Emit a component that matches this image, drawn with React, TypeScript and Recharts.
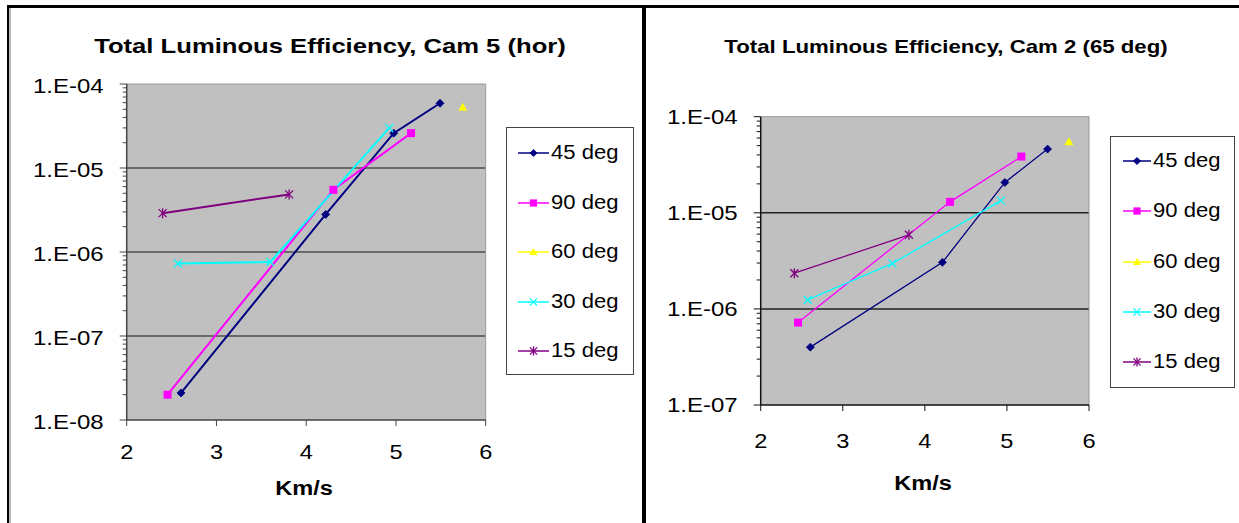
import React from 'react';
import { LineChart, Line, XAxis, YAxis, CartesianGrid, ReferenceLine } from 'recharts';

// ---------- data ----------
const SERIES_NAMES = ['45 deg', '90 deg', '60 deg', '30 deg', '15 deg'];
const SERIES_COLORS = ['#000080', '#FF00FF', '#FFFF00', '#00FFFF', '#800080'];
const SERIES_MARKERS = ['diamond', 'square', 'triangle', 'x', 'star'];

// Cam 5 (hor): velocity (km/s) and luminous efficiency
const CAM5_45_V = [2.605, 4.217, 4.975, 5.491];
const CAM5_45_E = [2.1e-8, 2.8e-6, 2.6e-5, 5.9e-5];
const CAM5_90_V = [2.455, 4.303, 5.168];
const CAM5_90_E = [2.0e-8, 5.5e-6, 2.6e-5];
const CAM5_60_V = [5.745];
const CAM5_60_E = [5.3e-5];
const CAM5_30_V = [2.57, 3.6, 4.925];
const CAM5_30_E = [7.3e-7, 7.6e-7, 3.0e-5];
const CAM5_15_V = [2.4, 3.81];
const CAM5_15_E = [2.9e-6, 4.85e-6];

// Cam 2 (65 deg)
const CAM2_45_V = [2.605, 4.214, 4.975, 5.495];
const CAM2_45_E = [4.0e-7, 3.05e-6, 2.07e-5, 4.6e-5];
const CAM2_90_V = [2.455, 4.307, 5.176];
const CAM2_90_E = [7.2e-7, 1.3e-5, 3.85e-5];
const CAM2_60_V = [5.755];
const CAM2_60_E = [5.5e-5];
const CAM2_30_V = [2.572, 3.605, 4.926];
const CAM2_30_E = [1.24e-6, 2.97e-6, 1.34e-5];
const CAM2_15_V = [2.41, 3.806];
const CAM2_15_E = [2.35e-6, 5.9e-6];

const X_TICKS = [2, 3, 4, 5, 6];
const X_TICK_LABELS = ['2', '3', '4', '5', '6'];
const CAM5_Y_MAJOR = [1e-8, 1e-7, 1e-6, 1e-5, 1e-4];
const CAM5_Y_LABELS = ['1.E-08', '1.E-07', '1.E-06', '1.E-05', '1.E-04'];
const CAM2_Y_MAJOR = [1e-7, 1e-6, 1e-5, 1e-4];
const CAM2_Y_LABELS = ['1.E-07', '1.E-06', '1.E-05', '1.E-04'];
const MINOR_MULT = [2, 3, 4, 5, 6, 7, 8, 9];

const CAM5_TITLE = 'Total Luminous Efficiency, Cam 5 (hor)';
const CAM2_TITLE = 'Total Luminous Efficiency, Cam 2 (65 deg)';
const X_TITLE = 'Km/s';

// ---------- helpers ----------
const FONT = '"Liberation Sans", Arial, Helvetica, sans-serif';

const pts = (v: number[], e: number[]) => v.map((x, i) => ({ v: x, e: e[i] }));

const CAM5_SERIES = [
  pts(CAM5_45_V, CAM5_45_E),
  pts(CAM5_90_V, CAM5_90_E),
  pts(CAM5_60_V, CAM5_60_E),
  pts(CAM5_30_V, CAM5_30_E),
  pts(CAM5_15_V, CAM5_15_E),
];
const CAM2_SERIES = [
  pts(CAM2_45_V, CAM2_45_E),
  pts(CAM2_90_V, CAM2_90_E),
  pts(CAM2_60_V, CAM2_60_E),
  pts(CAM2_30_V, CAM2_30_E),
  pts(CAM2_15_V, CAM2_15_E),
];

const buildTicks = (majors: number[]) => {
  const t: number[] = [];
  majors.forEach((m, i) => {
    t.push(m);
    if (i < majors.length - 1) MINOR_MULT.forEach((k) => t.push(m * k));
  });
  return t;
};

function Marker({ kind, cx, cy, color, s = 1 }: any) {
  const r = 4 * s;
  if (kind === 'diamond')
    return <polygon points={`${cx},${cy - r} ${cx + r},${cy} ${cx},${cy + r} ${cx - r},${cy}`} fill={color} stroke={color} strokeWidth={0.8} />;
  if (kind === 'square')
    return <rect x={cx - r} y={cy - r} width={2 * r} height={2 * r} fill={color} />;
  if (kind === 'triangle')
    return <polygon points={`${cx},${cy - r - 0.5} ${cx + r + 0.5},${cy + r - 0.5} ${cx - r - 0.5},${cy + r - 0.5}`} fill={color} />;
  if (kind === 'x')
    return (
      <g stroke={color} strokeWidth={1.3}>
        <line x1={cx - r} y1={cy - r} x2={cx + r} y2={cy + r} />
        <line x1={cx - r} y1={cy + r} x2={cx + r} y2={cy - r} />
      </g>
    );
  return (
    <g stroke={color} strokeWidth={1.3}>
      <line x1={cx - r} y1={cy - r} x2={cx + r} y2={cy + r} />
      <line x1={cx - r} y1={cy + r} x2={cx + r} y2={cy - r} />
      <line x1={cx} y1={cy - r - 1} x2={cx} y2={cy + r + 1} />
    </g>
  );
}

const makeYTick = (majors: number[], labels: string[], color: string, dy: number) => (props: any) => {
  const { x, y, payload } = props;
  const idx = majors.findIndex((m) => Math.abs(m - payload.value) / m < 1e-6);
  const major = idx >= 0;
  return (
    <g>
      <line x1={x - (major ? 7 : 4)} x2={x} y1={y} y2={y} stroke={color} strokeWidth={1} />
      {major && (
        <text transform={`translate(${x - 23},${y + dy}) scale(1.2,1)`} textAnchor="end" fontSize={20} fontFamily={FONT} fill="#000">
          {labels[idx]}
        </text>
      )}
    </g>
  );
};

const makeXTick = (color: string, dy: number) => (props: any) => {
  const { x, y, payload } = props;
  const idx = X_TICKS.indexOf(payload.value);
  return (
    <g>
      <line x1={x} x2={x} y1={y} y2={y + 6} stroke={color} strokeWidth={1} />
      <text transform={`translate(${x},${y + dy}) scale(1.18,1)`} textAnchor="middle" fontSize={20} fontFamily={FONT} fill="#000">
        {X_TICK_LABELS[idx]}
      </text>
    </g>
  );
};

function Panel(p: any) {
  const { offsetX, width, height, plot, series, majors, labels, lineWidth, gridColor, gridWidth, axisColor, borderColor, xDy, yDy } = p;
  const yTicks = buildTicks(majors);
  return (
    <div style={{ position: 'absolute', left: offsetX, top: 0 }}>
      <LineChart
        width={width}
        height={height}
        margin={{ top: plot.top, right: width - plot.right, bottom: height - plot.bottom - 60, left: 0 }}
      >
        <CartesianGrid fill="#C0C0C0" horizontal={false} vertical={false} />
        <XAxis
          dataKey="v"
          type="number"
          domain={[2, 6]}
          ticks={X_TICKS}
          interval={0}
          allowDataOverflow
          height={60}
          tickSize={0}
          tickMargin={0}
          tickLine={false}
          axisLine={{ stroke: axisColor, strokeWidth: 1.5 }}
          tick={makeXTick(axisColor, xDy)}
        />
        <YAxis
          dataKey="e"
          type="number"
          scale="log"
          domain={[majors[0], majors[majors.length - 1]]}
          ticks={yTicks}
          interval={0}
          allowDataOverflow
          width={plot.left}
          tickSize={0}
          tickMargin={0}
          tickLine={false}
          axisLine={{ stroke: axisColor, strokeWidth: 1.5 }}
          tick={makeYTick(majors, labels, axisColor, yDy)}
        />
        {majors.slice(1, -1).map((m: number) => (
          <ReferenceLine key={m} y={m} stroke={gridColor} strokeWidth={gridWidth} />
        ))}
        <ReferenceLine y={majors[majors.length - 1]} stroke={borderColor} strokeWidth={1} />
        <ReferenceLine x={6} stroke={borderColor} strokeWidth={1} />
        {series.map((d: any[], i: number) => (
          <Line
            key={SERIES_NAMES[i]}
            data={d}
            dataKey="e"
            name={SERIES_NAMES[i]}
            stroke={SERIES_COLORS[i]}
            strokeWidth={lineWidth}
            isAnimationActive={false}
            activeDot={false}
            dot={(dp: any) => (
              <g key={`${SERIES_NAMES[i]}-${dp.index}`}>
                <Marker kind={SERIES_MARKERS[i]} cx={dp.cx} cy={dp.cy} color={SERIES_COLORS[i]} />
              </g>
            )}
          />
        ))}
      </LineChart>
    </div>
  );
}

function LegendBox({ box, rows, lineX0, lineX1, textX }: any) {
  return (
    <>
      <div
        style={{
          position: 'absolute',
          left: box.left,
          top: box.top,
          width: box.width,
          height: box.height,
          boxSizing: 'border-box',
          border: '1.5px solid #444',
          background: '#fff',
        }}
      />
      {SERIES_NAMES.map((n, i) => (
        <React.Fragment key={n}>
          <svg style={{ position: 'absolute', left: lineX0, top: rows[i] - 7 }} width={lineX1 - lineX0} height={14}>
            <line x1={0} x2={lineX1 - lineX0} y1={7} y2={7} stroke={SERIES_COLORS[i]} strokeWidth={1.5} />
            <Marker kind={SERIES_MARKERS[i]} cx={(lineX1 - lineX0) / 2} cy={7} color={SERIES_COLORS[i]} s={0.9} />
          </svg>
          <div
            style={{
              position: 'absolute',
              left: textX,
              top: rows[i] - 10,
              fontSize: 19.5,
              lineHeight: '19.5px',
              fontFamily: FONT,
              whiteSpace: 'nowrap',
              transform: 'scaleX(1.13)',
              transformOrigin: 'left center',
              color: '#000',
            }}
          >
            {n}
          </div>
        </React.Fragment>
      ))}
    </>
  );
}

function CenterText({ text, cx, top, size, scale }: any) {
  return (
    <div
      style={{
        position: 'absolute',
        left: cx,
        top,
        fontSize: size,
        lineHeight: `${size}px`,
        fontFamily: FONT,
        fontWeight: 'bold',
        whiteSpace: 'nowrap',
        transform: `translateX(-50%) scaleX(${scale})`,
        transformOrigin: 'center center',
        color: '#000',
      }}
    >
      {text}
    </div>
  );
}

export default function App() {
  return (
    <div style={{ position: 'absolute', left: 0, top: 0, width: 1239, height: 523, background: '#fff', overflow: 'hidden' }}>
      <Panel
        offsetX={0}
        width={640}
        height={523}
        plot={{ left: 126.7, right: 485.7, top: 84, bottom: 420 }}
        series={CAM5_SERIES}
        majors={CAM5_Y_MAJOR}
        labels={CAM5_Y_LABELS}
        lineWidth={2}
        gridColor="#6a6a6a"
        gridWidth={2}
        axisColor="#444"
        borderColor="#9a9a9a"
        xDy={39}
        yDy={8.5}
      />
      <Panel
        offsetX={645}
        width={594}
        height={523}
        plot={{ left: 115.7, right: 444, top: 116.7, bottom: 405 }}
        series={CAM2_SERIES}
        majors={CAM2_Y_MAJOR}
        labels={CAM2_Y_LABELS}
        lineWidth={1.3}
        gridColor="#222"
        gridWidth={1.5}
        axisColor="#111"
        borderColor="#999"
        xDy={43}
        yDy={7}
      />
      <CenterText text={CAM5_TITLE} cx={330} top={34.5} size={21} scale={1.22} />
      <CenterText text={CAM2_TITLE} cx={946} top={38.3} size={18.5} scale={1.2} />
      <CenterText text={X_TITLE} cx={304} top={478} size={20} scale={1.18} />
      <CenterText text={X_TITLE} cx={922.7} top={472.6} size={20} scale={1.18} />
      <LegendBox box={{ left: 506, top: 126.7, width: 127.5, height: 248.3 }} rows={[153, 202.7, 252.3, 302, 351.3]} lineX0={518} lineX1={549} textX={551} />
      <LegendBox box={{ left: 1109.8, top: 135.7, width: 125.2, height: 252 }} rows={[161, 211.3, 261.7, 311.7, 362.3]} lineX0={1123} lineX1={1151} textX={1153} />
      {/* frame */}
      <div style={{ position: 'absolute', left: 7, top: 5, width: 1232, height: 2.5, background: '#000' }} />
      <div style={{ position: 'absolute', left: 6.7, top: 5, width: 2.5, height: 518, background: '#000' }} />
      <div style={{ position: 'absolute', left: 9.2, top: 7.5, width: 1.5, height: 516, background: '#bbb' }} />
      <div style={{ position: 'absolute', left: 641.8, top: 5, width: 4, height: 518, background: '#000' }} />
    </div>
  );
}
